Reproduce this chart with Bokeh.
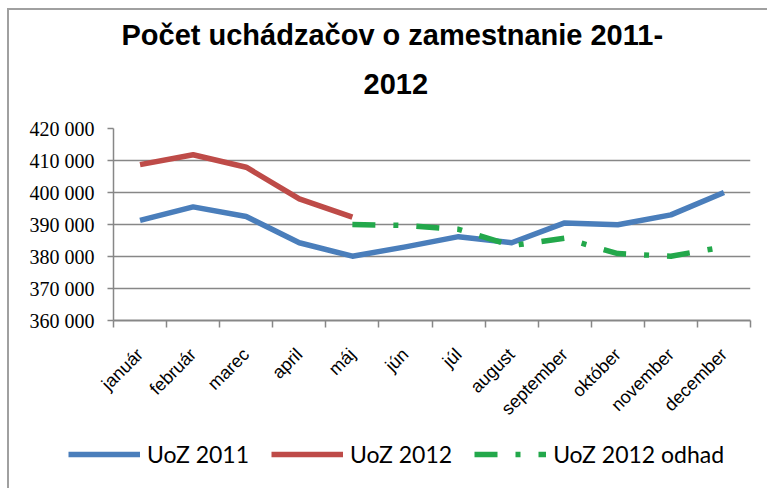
import math
from bokeh.plotting import figure
from bokeh.layouts import column
from bokeh.models import FixedTicker, Legend, LegendItem, Title, Range1d
from bokeh.embed import file_html
from bokeh.resources import INLINE

months = ["január", "február", "marec", "april", "máj", "jún", "júl",
          "august", "september", "október", "november", "december"]
uoz_2011 = [391300, 395500, 392500, 384300, 380100, 383000, 386200,
            384300, 390500, 389900, 393000, 400000]
uoz_2012 = [408700, 411800, 407900, 398000, 392300]
odhad_months = ["máj", "jún", "júl", "august", "september", "október", "november", "december"]
uoz_2012_odhad = [390000, 389700, 388500, 383400, 385700, 380900, 380100, 383000]
y_ticks = [360000, 370000, 380000, 390000, 400000, 410000, 420000]
series_names = ["UoZ 2011", "UoZ 2012", "UoZ 2012 odhad"]

BLUE = "#4A7EBB"
RED = "#BE4B48"
GREEN = "#23A84B"
GRAY = "#878787"
DASH = "23 18 5 18"

idx = {m: i + 0.5 for i, m in enumerate(months)}
centers = [idx[m] for m in months]
bounds = list(range(len(months) + 1))

p = figure(frame_width=637, frame_height=192, x_range=Range1d(0, len(months)),
           y_range=Range1d(y_ticks[0], y_ticks[-1]),
           output_backend="svg", toolbar_location=None, title_location=None,
           min_border_left=104, min_border_right=17, min_border_top=118, min_border_bottom=100)
p.outline_line_color = None
p.background_fill_color = "white"
p.border_fill_color = "white"

p.line([idx[m] for m in months], uoz_2011, line_color=BLUE, line_width=5.5, line_join="round")
p.line([idx[m] for m in months[:len(uoz_2012)]], uoz_2012, line_color=RED, line_width=5.5, line_join="round")
p.line([idx[m] for m in odhad_months], uoz_2012_odhad, line_color=GREEN, line_width=5.5, line_dash=DASH)

# axes
xa = p.xaxis[0]
xa.ticker = FixedTicker(ticks=centers, minor_ticks=bounds)
xa.major_label_overrides = {c: m for c, m in zip(centers, months)}
xa.major_tick_line_color = None
xa.minor_tick_line_color = GRAY
xa.minor_tick_line_width = 1.5
xa.minor_tick_out = 7
xa.minor_tick_in = 0
xa.axis_line_color = GRAY
xa.axis_line_width = 2
xa.major_label_orientation = math.pi / 4
xa.major_label_text_font = "Liberation Sans"
xa.major_label_text_font_size = "18px"
xa.major_label_text_color = "black"
xa.major_label_standoff = 24

ya = p.yaxis[0]
ya.ticker = FixedTicker(ticks=y_ticks, minor_ticks=[])
ya.major_label_overrides = {v: f"{v:,}".replace(",", " ") for v in y_ticks}
ya.major_tick_line_color = GRAY
ya.major_tick_line_width = 1.5
ya.major_tick_out = 6
ya.major_tick_in = 0
ya.minor_tick_line_color = None
ya.axis_line_color = GRAY
ya.axis_line_width = 1.5
ya.major_label_text_font = "Liberation Serif"
ya.major_label_text_font_size = "20px"
ya.major_label_text_color = "black"
ya.major_label_standoff = 13

p.xgrid.visible = False
p.ygrid.grid_line_color = GRAY
p.ygrid.grid_line_width = 1.5
p.ygrid.ticker = FixedTicker(ticks=y_ticks)

# titles (first added sits closest to plot)
t2 = Title(text="2012", align="left", offset=250, text_font="Liberation Sans", text_font_size="29px",
           text_font_style="bold", text_color="black", standoff=70)
t1 = Title(text="Počet uchádzačov o zamestnanie 2011-", align="left", offset=8,
           text_font="Liberation Sans", text_font_size="29px", text_font_style="bold",
           text_color="black", standoff=-28)
p.add_layout(t2, "above")
p.add_layout(t1, "above")

# legend strip below the chart
lf = figure(width=758, height=66, output_backend="svg", toolbar_location=None, title_location=None,
            x_axis_location=None, y_axis_location=None, min_border=0,
            x_range=Range1d(0, len(months)), y_range=Range1d(y_ticks[0], y_ticks[-1]))
lf.outline_line_color = None
lf.xgrid.visible = False
lf.ygrid.visible = False

can_unalign = "frame_align" in lf.properties()
if can_unalign:
    lf.frame_align = False
    p.frame_align = False
    leg_x, glyph_w, spacing = 59, 72, 22
else:
    leg_x, glyph_w, spacing = 0, 66, 14

lr1 = lf.line([idx[m] for m in months], uoz_2011, line_color=BLUE, line_width=5.5, visible=False)
lr2 = lf.line([idx[m] for m in months[:len(uoz_2012)]], uoz_2012, line_color=RED, line_width=5.5, visible=False)
lr3 = lf.line([idx[m] for m in odhad_months], uoz_2012_odhad, line_color=GREEN, line_width=5.5,
              line_dash=DASH, visible=False)
legend = Legend(items=[LegendItem(label=series_names[0], renderers=[lr1]),
                       LegendItem(label=series_names[1], renderers=[lr2]),
                       LegendItem(label=series_names[2], renderers=[lr3])],
                orientation="horizontal", location=(leg_x, 26), click_policy="none",
                glyph_width=glyph_w, glyph_height=24, label_height=24, label_standoff=7, spacing=spacing,
                label_text_font="Lato", label_text_font_size="23px", label_text_color="black",
                border_line_color=None, background_fill_alpha=0, padding=0, margin=0)
lf.add_layout(legend, "center")

layout = column(p, lf, spacing=0,
                styles={"border-left": "2px solid #a0a0a0", "border-top": "2px solid #a0a0a0",
                        "margin-left": "7px", "margin-top": "8px"})

open("out.html", "w").write(file_html(layout, INLINE))
